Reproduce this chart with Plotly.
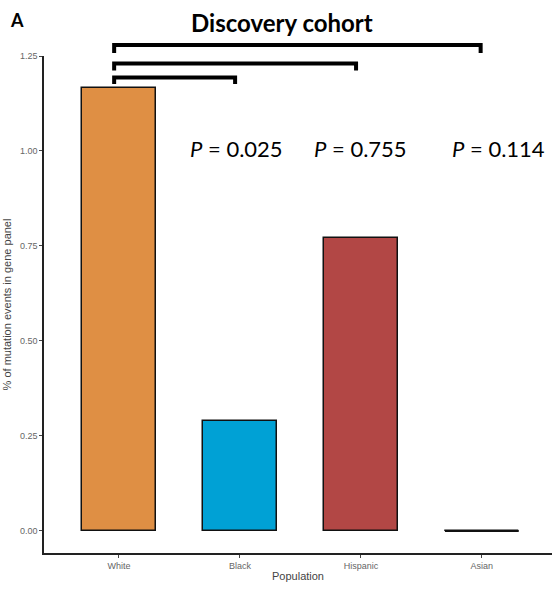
import plotly.graph_objects as go

# ---- data ----
populations = ["White", "Black", "Hispanic", "Asian"]
mutation_pct = [1.167, 0.290, 0.770, 0.0]
bar_colors = ["#DF8F44", "#00A1D5", "#B24745", "#6A6599"]
comparisons = [("White", "Asian"), ("White", "Hispanic"), ("White", "Black")]
p_values = ["0.114", "0.755", "0.025"]
y_ticks = [0, 0.25, 0.5, 0.75, 1.0, 1.25]
y_tick_text = ["0.00", "0.25", "0.50", "0.75", "1.00", "1.25"]

X_MIN, X_MAX = -0.62, 3.58
Y_MIN, Y_MAX = -0.058, 1.25
BAR_W = 0.61

# plot-area pixel geometry (for paper-coordinate conversions)
PL, PR, PT, PB = 44, 552, 56, 553

def paper_x(pix):
    return (pix - PL) / (PR - PL)

def paper_y(pix):
    return (PB - pix) / (PB - PT)

def cat_x(i):
    return (i - X_MIN) / (X_MAX - X_MIN)

xs = list(range(len(populations)))

fig = go.Figure()
fig.add_trace(go.Bar(
    x=xs, y=mutation_pct, width=BAR_W,
    marker=dict(color=bar_colors, line=dict(color="#111111", width=1.5)),
    showlegend=False, hoverinfo="x+y",
))

# zero-height bars drawn as a line at baseline
for i, v in enumerate(mutation_pct):
    if v == 0:
        fig.add_shape(type="line", xref="x", yref="y",
                      x0=i - BAR_W / 2, x1=i + BAR_W / 2, y0=v, y1=v,
                      line=dict(color="#111111", width=2))

# brackets (above plot area)
bracket_levels = [(45, 53), (63.5, 70.5), (77.5, 84)]
for (a, b), (ytop, yleg) in zip(comparisons, bracket_levels):
    ia, ib = populations.index(a), populations.index(b)
    xa = cat_x(ia - 0.04)
    xb = cat_x(ib - 0.04 + (0.03 if b == "Asian" else 0))
    yt, yl = paper_y(ytop), paper_y(yleg)
    fig.add_shape(type="path", xref="paper", yref="paper",
                  path=f"M {xa},{yl} L {xa},{yt} L {xb},{yt} L {xb},{yl}",
                  line=dict(color="black", width=4))

# p-value labels
p_x = [498, 360, 236]
for pv, xc in zip(p_values, p_x):
    fig.add_annotation(x=paper_x(xc), y=paper_y(148), xref="paper", yref="paper",
                       text=f"<i>P</i> = {pv}", showarrow=False,
                       font=dict(family="Lato", size=22, color="black"),
                       xanchor="center", yanchor="middle")

fig.add_annotation(x=paper_x(282), y=paper_y(22), xref="paper", yref="paper",
                   text="<b>Discovery cohort</b>", showarrow=False,
                   font=dict(family="Lato", size=24, color="black"),
                   xanchor="center", yanchor="middle")
fig.add_annotation(x=paper_x(17), y=paper_y(20), xref="paper", yref="paper",
                   text="<b>A</b>", showarrow=False,
                   font=dict(family="Lato", size=18, color="black"),
                   xanchor="center", yanchor="middle")

fig.update_layout(
    width=552, height=591,
    margin=dict(l=PL, r=552 - PR, t=PT, b=591 - PB),
    plot_bgcolor="white", paper_bgcolor="white",
    bargap=0,
    xaxis=dict(
        range=[X_MIN, X_MAX], tickmode="array", tickvals=xs, ticktext=populations,
        showline=True, linecolor="#222222", linewidth=1.5,
        ticks="outside", ticklen=3, tickcolor="#444444", tickwidth=1,
        tickfont=dict(family="Liberation Sans", size=9, color="#666666"),
        title=dict(text="Population", standoff=3,
                   font=dict(family="Liberation Sans", size=11, color="#444444")),
        showgrid=False, zeroline=False, fixedrange=True,
    ),
    yaxis=dict(
        range=[Y_MIN, Y_MAX], tickmode="array", tickvals=y_ticks, ticktext=y_tick_text,
        showline=True, linecolor="#222222", linewidth=1.5,
        ticks="outside", ticklen=3, tickcolor="#444444", tickwidth=1,
        tickfont=dict(family="Liberation Sans", size=9, color="#666666"),
        title=dict(text="% of mutation events in gene panel", standoff=6,
                   font=dict(family="Liberation Sans", size=11, color="#444444")),
        showgrid=False, zeroline=False, fixedrange=True,
    ),
)

fig.write_html("out.html")
